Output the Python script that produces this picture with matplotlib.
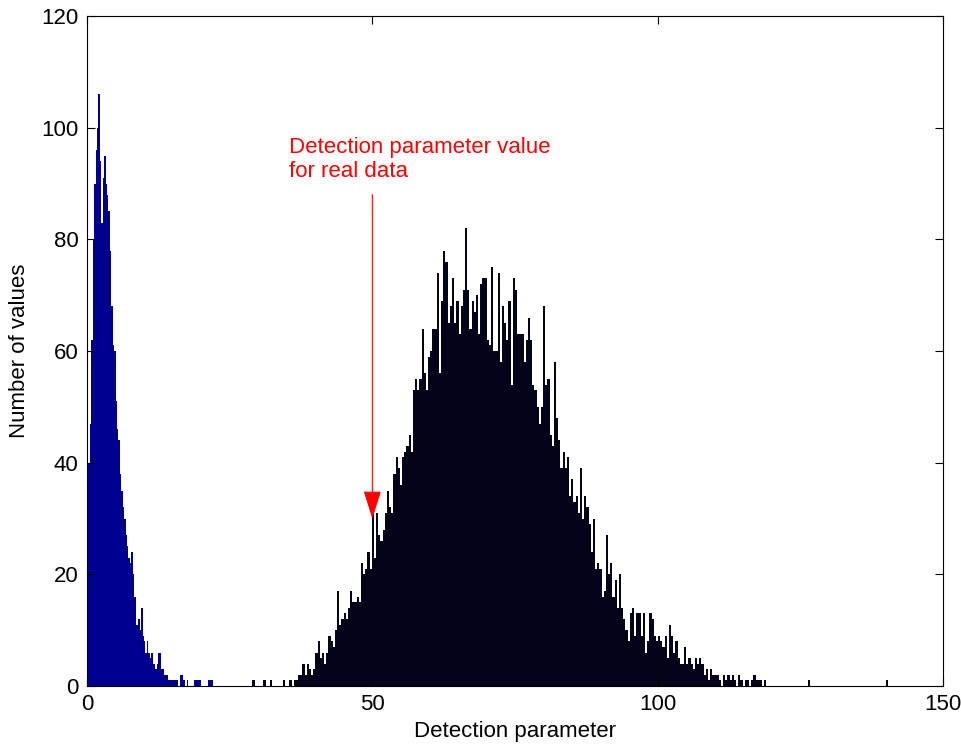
import matplotlib
matplotlib.use("Agg")
import matplotlib.pyplot as plt
import numpy as np

plt.rcParams['font.family'] = ['Liberation Sans', 'DejaVu Sans']

# ---- data: histogram counts ----
blue_start = 0.0
blue_width = 0.25
blue_counts = [29, 40, 47, 62, 80, 90, 96, 100, 106, 94,
               83, 91, 95, 90, 88, 85, 78, 68, 61, 60,
               51, 46, 44, 38, 35, 32, 30, 27, 25, 23,
               22, 24, 20, 16, 11, 11, 12, 10, 14, 9,
               8, 6, 8, 6, 5, 6, 4, 4, 3, 4,
               6, 6, 3, 3, 2, 2, 2, 1, 1, 1,
               1, 1, 1, 1, 0, 2, 2, 1, 1, 0,
               1, 0, 0, 0, 0, 1, 1, 1, 1, 1,
               0, 0, 0, 0, 0, 1, 1, 1]

black_start = 29.0
black_width = 0.38
black_counts = [
    1, 0, 0, 0, 0, 1, 0, 0, 1, 0, 0, 0, 0, 0, 1, 0, 0,
    1, 0, 1, 1, 2, 2, 4, 2, 4, 3, 2, 3, 6, 8, 5, 6, 4, 6, 9, 8, 7, 10, 17, 11,
    12, 13, 12, 14, 17, 15, 15, 16, 15, 22, 20, 21, 24,
    21, 32, 23, 31, 27, 26, 28, 31, 35, 32, 31, 38, 41, 39, 36, 41, 42, 43, 45,
    42, 53, 55, 53, 55, 64, 56, 53, 59, 60, 64, 64, 74, 56, 69, 78, 76, 65,
    68, 73, 65, 69, 63, 68, 71, 82, 71, 64, 69, 67, 70, 63, 72, 73, 73, 62, 61,
    75, 60, 60, 74, 58, 68, 65, 62, 69, 54, 73, 71, 63, 63, 63, 58, 62, 66,
    62, 54, 53, 50, 47, 50, 68, 54, 55, 45, 43, 58, 48, 44, 39, 42, 39, 41, 34,
    37, 33, 34, 31, 39, 30, 34, 32, 29, 24, 30, 21, 22, 21, 16, 17, 27, 20,
    22, 16, 19, 14, 20, 14, 12, 10, 8, 13, 14, 9, 13, 13, 9, 13, 6, 8, 13, 12,
    9, 8, 9, 8, 7, 9, 5, 11, 9, 6, 8, 5, 4, 4, 7, 4,
    5, 4, 3, 5, 4,
    5, 4, 2, 3, 1, 3, 2, 2, 2, 1, 0, 2, 1, 2, 1, 2, 1, 0, 2, 1, 0, 1, 1, 0, 1,
    2, 1, 1, 1, 0, 1, 0,
    0, 0, 0, 0, 0, 0, 0, 0, 0, 0, 0, 0, 0, 0, 0, 0, 0, 0, 1,
    0, 0, 0, 0, 0, 0, 0, 0, 0, 0, 0, 0, 0, 0, 0, 0, 0, 0, 0, 0,
    0, 0, 0, 0, 0, 0, 0, 0, 0, 0, 0, 0, 0, 0, 0, 1]

real_value = 50.0
annot_text = "Detection parameter value\nfor real data"
x_label = "Detection parameter"
y_label = "Number of values"
x_ticks = [0, 50, 100, 150]
y_ticks = [0, 20, 40, 60, 80, 100, 120]

# ---- figure ----
fig = plt.figure(figsize=(9.62, 7.49), dpi=100)
ax = fig.add_axes([87 / 962, 63 / 749, 856 / 962, 670 / 749])

blue_edges = blue_start + blue_width * np.arange(len(blue_counts))
black_edges = black_start + black_width * np.arange(len(black_counts))

ax.bar(blue_edges, blue_counts, width=blue_width, align='edge',
       color='#00008f', linewidth=0)
ax.bar(black_edges, black_counts, width=black_width, align='edge',
       color='#03031a', linewidth=0)

ax.set_xlim(0, 150)
ax.set_ylim(0, 120)
ax.set_xticks(x_ticks)
ax.set_yticks(y_ticks)
ax.tick_params(direction='in', length=5.5, width=0.8, top=True, right=True,
               labelsize=16, pad=6)
for s in ax.spines.values():
    s.set_linewidth(0.8)

ax.set_xlabel(x_label, fontsize=16, labelpad=4)
ax.set_ylabel(y_label, fontsize=16, labelpad=8)

ax.annotate('', xy=(real_value, 30), xytext=(real_value, 88),
            arrowprops=dict(arrowstyle='-|>,head_length=1.1,head_width=0.35',
                            color='red', lw=0.8, shrinkA=0, shrinkB=0,
                            mutation_scale=16))
ax.text(35.4, 90.3, annot_text, color='red', fontsize=16, ha='left',
        va='bottom', linespacing=1.15)

fig.savefig('out.png', dpi=100)
